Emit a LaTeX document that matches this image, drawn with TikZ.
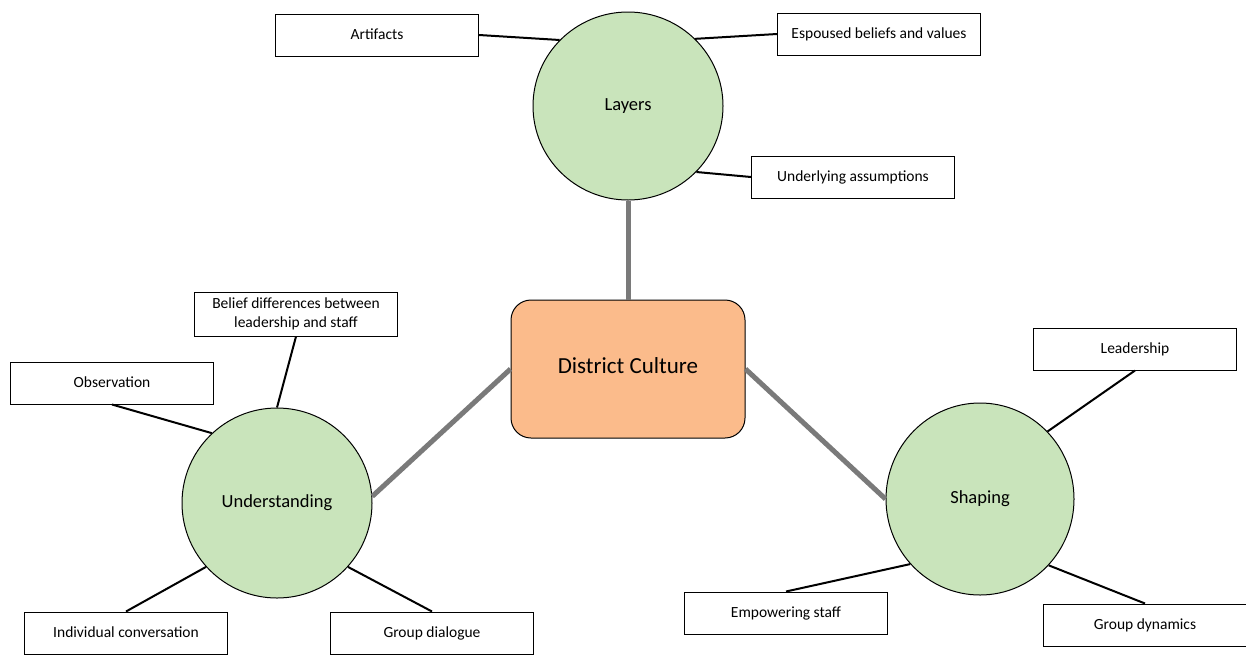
\documentclass[tikz,border=0pt]{standalone}
\usepackage{fontspec}
\setmainfont{Carlito}
\usetikzlibrary{shapes.geometric}
\definecolor{leaf}{HTML}{C9E4BB}
\definecolor{peach}{HTML}{FBBB8B}
\definecolor{hubline}{HTML}{7A7A7A}
\begin{document}
\begin{tikzpicture}[x=1pt,y=-1pt,
  leafbox/.style={draw, line width=1pt, fill=white, minimum width=203pt, minimum height=42pt, inner sep=0pt, align=center, text height=0.95em, text depth=0pt, font=\fontsize{15.5}{19}\selectfont},
  topic/.style={ellipse, draw, fill=leaf, line width=1pt, inner sep=0pt, text height=0.95em, text depth=0pt, font=\fontsize{18.5}{22}\selectfont},
  hubbox/.style={draw, fill=peach, line width=1pt, rounded corners=20pt, minimum width=234pt, minimum height=138pt, text height=0.95em, text depth=0pt, font=\fontsize{23}{27}\selectfont},
  spoke/.style={line width=2pt, black},
  trunk/.style={line width=5pt, hubline}]
\useasboundingbox (0,0) rectangle (1246,654);
% central and topic nodes
\node[hubbox] (dc) at (628,369) {District Culture};
\node[topic, minimum width=190pt, minimum height=188pt] (layers) at (628,106) {Layers};
\node[topic, minimum width=190pt, minimum height=190pt] (und) at (277,503) {Understanding};
\node[topic, minimum width=188pt, minimum height=192pt] (shp) at (980,499) {Shaping};
% leaf boxes
\node[leafbox] (art) at (377,35) {Artifacts};
\node[leafbox] (esp) at (879,34) {Espoused beliefs and values};
\node[leafbox] (ua) at (853,177) {Underlying assumptions};
\node[leafbox, minimum height=44pt, text height=, text depth=] (bel) at (296,314) {Belief differences between\\leadership and staff};
\node[leafbox] (obs) at (112,383) {Observation};
\node[leafbox] (ind) at (126,633) {Individual conversation};
\node[leafbox] (gd) at (432,633) {Group dialogue};
\node[leafbox] (lead) at (1135,349) {Leadership};
\node[leafbox] (emp) at (786,613) {Empowering staff};
\node[leafbox] (gdyn) at (1145,625) {Group dynamics};
% trunks
\draw[trunk] (layers.south) -- (dc.north);
\draw[trunk] (und.4) -- (dc.west);
\draw[trunk] (dc.east) -- (shp.west);
% spokes
\draw[spoke] (art.east) -- (layers.136);
\draw[spoke] (esp.west) -- (layers.45);
\draw[spoke] (ua.west) -- (layers.-44);
\draw[spoke] (bel.south) -- (und.north);
\draw[spoke] (obs.south) -- (und.133);
\draw[spoke] (ind.north) -- (und.-138);
\draw[spoke] (gd.north) -- (und.-42);
\draw[spoke] (lead.south) -- (shp.45);
\draw[spoke] (emp.north) -- (shp.-137);
\draw[spoke] (gdyn.north) -- (shp.-44);
\end{tikzpicture}
\end{document}
